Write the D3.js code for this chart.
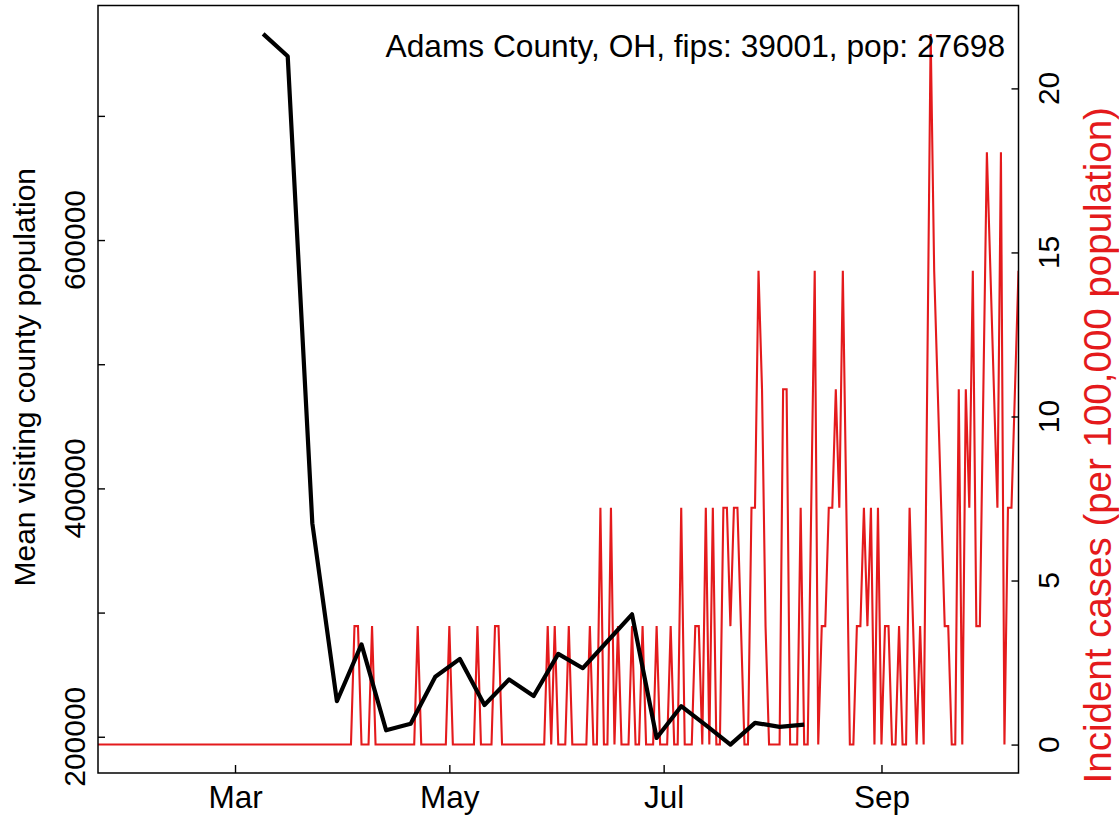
<!DOCTYPE html>
<html><head><meta charset="utf-8">
<script src="https://cdn.jsdelivr.net/npm/d3@7"></script>
<style>
body{margin:0;background:#fff}
text{font-family:"Liberation Sans",Arial,Helvetica,sans-serif}
</style>
</head><body>
<svg id="chart" width="1119" height="822"></svg>
<script>
// ---------- data ----------
const countyLabel = "Adams County, OH, fips: 39001, pop: 27698";
const leftAxisTitle = "Mean visiting county population";
const rightAxisTitle = "Incident cases (per 100,000 population)";

// weekly mean visiting county population (black)
const mobilityDates = ["2020-03-09","2020-03-16","2020-03-23","2020-03-30","2020-04-06","2020-04-13",
  "2020-04-20","2020-04-27","2020-05-04","2020-05-11","2020-05-18","2020-05-25","2020-06-01",
  "2020-06-08","2020-06-15","2020-06-22","2020-06-29","2020-07-06","2020-07-13","2020-07-20",
  "2020-07-27","2020-08-03","2020-08-10"];
const mobilityValues = [766000,748000,372000,228600,274400,205200,210400,248300,262700,225600,
  246100,232800,266700,255200,276900,298600,199000,224600,209300,193700,211200,208000,209800];

// daily incident cases per 100,000 (red), one value per day from incidenceStart
const incidenceStart = "2020-01-22";
const incJan = [0,0,0,0,0,0,0,0,0,0];
const incFeb = [0,0,0,0,0,0,0,0,0,0, 0,0,0,0,0,0,0,0,0,0, 0,0,0,0,0,0,0,0,0];
const incMar = [0,0,0,0,0,0,0,0,0,0, 0,0,0,0,0,0,0,0,0,0, 0,0,0,0,0,0,0,0,0,0, 0];
const incApr = [0,0,0,3.61,3.61,0,0,0,3.61,0, 0,0,0,0,0,0,0,0,0,0, 0,3.61,0,0,0,0,0,0,0,0];
const incMay = [3.61,0,0,0,0,0,0,0,3.61,0, 0,0,0,3.61,3.61,0,0,0,0,0, 0,0,0,0,0,0,0,0,3.61,0, 3.61];
const incJun = [0,0,0,3.61,0,0,0,0,0,3.61, 0,0,7.22,0,0,7.22,0,3.61,0,0, 0,3.61,0,0,3.61,0,0,0,3.61,0];
const incJul = [0,0,3.61,0,0,7.22,0,0,0,3.61, 3.61,0,7.22,0,7.22,0,0,7.22,7.22,3.61,
  7.22,7.22,3.61,0,0,7.22,7.22,14.44,10.83,3.61, 0];
const incAug = [0,0,0,10.83,10.83,0,0,0,7.22,0, 0,7.22,14.44,0,3.61,3.61,7.22,7.22,10.83,7.22,
  14.44,7.22,0,0,3.61,3.61,7.22,3.61,7.22,0, 7.22];
const incSep = [0,3.61,3.61,0,0,3.61,0,0,7.22,3.61, 0,3.61,0,10.83,21.66,14.44,10.83,7.22,3.61,3.61,
  0,0,10.83,0,10.83,7.22,14.44,3.61,3.61,10.83];
const incOct = [18.05,14.44,10.83,7.22,18.05,0,7.22,7.22,10.83,14.44];

const monthTicks = ["2020-03-01","2020-05-01","2020-07-01","2020-09-01"];
const monthTickLabels = ["Mar","May","Jul","Sep"];
const leftTicks = [200000,300000,400000,500000,600000,700000];
const leftTickLabels = ["200000","","400000","","600000",""];
const rightTicks = [0,5,10,15,20];
const rightTickLabels = ["0","5","10","15","20"];

// ---------- build ----------
const parse = d3.utcParse("%Y-%m-%d");
const incidenceValues = [].concat(incJan,incFeb,incMar,incApr,incMay,incJun,incJul,incAug,incSep,incOct);
const t0 = parse(incidenceStart);
const incidence = incidenceValues.map((v,i)=>({date:d3.utcDay.offset(t0,i), value:v}));
const mobility = mobilityDates.map((d,i)=>({date:parse(d), value:mobilityValues[i]}));

const L = 98, R = 1018.5, T = 5.5, B = 773;
const svg = d3.select("#chart");
svg.append("rect").attr("width",1119).attr("height",822).attr("fill","#fff");

const x = d3.scaleUtc()
  .domain(d3.extent(incidence, d=>d.date))
  .range([L, R]);

function pad(ext){ const r = ext[1]-ext[0]; return [ext[0]-0.04*r, ext[1]+0.04*r]; }
const yL = d3.scaleLinear().domain(pad(d3.extent(mobility,d=>d.value))).range([B,T]);
const yR = d3.scaleLinear().domain(pad(d3.extent(incidence,d=>d.value))).range([B,T]);

const RED = "#E41A1C";
const FS = 30, FSH = 31.5;

svg.append("clipPath").attr("id","clip").append("rect")
  .attr("x",L).attr("y",T).attr("width",R-L).attr("height",B-T);

// red incidence line
svg.append("path").datum(incidence)
  .attr("clip-path","url(#clip)")
  .attr("fill","none").attr("stroke",RED).attr("stroke-width",2.1)
  .attr("stroke-linejoin","miter").attr("stroke-miterlimit",10)
  .attr("d", d3.line().x(d=>x(d.date)).y(d=>yR(d.value)));

// black mobility line
svg.append("path").datum(mobility)
  .attr("fill","none").attr("stroke","#000").attr("stroke-width",4.2)
  .attr("stroke-linejoin","round").attr("stroke-linecap","butt")
  .attr("d", d3.line().x(d=>x(d.date)).y(d=>yL(d.value)));

// box
svg.append("rect").attr("x",L).attr("y",T).attr("width",R-L).attr("height",B-T)
  .attr("fill","none").attr("stroke","#000").attr("stroke-width",1.5);

// bottom axis (inward ticks)
const gx = svg.append("g").attr("transform",`translate(0,${B})`)
  .call(d3.axisBottom(x).tickValues(monthTicks.map(parse))
    .tickSize(-8).tickPadding(13)
    .tickFormat((d,i)=>monthTickLabels[i]));
gx.select(".domain").remove();
gx.selectAll("line").attr("stroke","#000").attr("stroke-width",1.4);
gx.selectAll("text").attr("fill","#000").style("font-size",FSH+"px")
  .style("font-family",'"Liberation Sans",Arial,sans-serif');

// left axis (inward ticks)
const gl = svg.append("g").attr("transform",`translate(${L},0)`)
  .call(d3.axisLeft(yL).tickValues(leftTicks).tickSize(-7).tickFormat(""));
gl.select(".domain").remove();
gl.selectAll("line").attr("stroke","#000").attr("stroke-width",1.4);
svg.append("g").selectAll("text").data(leftTicks).join("text")
  .attr("transform",d=>`translate(${L-13.5},${yL(d)}) rotate(-90)`)
  .attr("text-anchor","middle").style("font-size",FS+"px").attr("fill","#000")
  .text((d,i)=>leftTickLabels[i]);

// right axis (inward ticks)
const gr = svg.append("g").attr("transform",`translate(${R},0)`)
  .call(d3.axisRight(yR).tickValues(rightTicks).tickSize(-7).tickFormat(""));
gr.select(".domain").remove();
gr.selectAll("line").attr("stroke","#000").attr("stroke-width",1.4);
svg.append("g").selectAll("text").data(rightTicks).join("text")
  .attr("transform",d=>`translate(${R+40},${yR(d)}) rotate(-90)`)
  .attr("text-anchor","middle").style("font-size",FS+"px").attr("fill","#000")
  .text((d,i)=>rightTickLabels[i]);

// axis titles
svg.append("text").attr("transform",`translate(35,${(T+B)/2 - 12}) rotate(-90)`)
  .attr("text-anchor","middle").style("font-size",FS+"px").attr("fill","#000")
  .text(leftAxisTitle);
svg.append("text").attr("transform",`translate(1111,${(T+B)/2 + 56}) rotate(-90)`)
  .attr("text-anchor","middle").style("font-size","38.5px").attr("fill",RED)
  .text(rightAxisTitle);

// county label
svg.append("text").attr("x",1005).attr("y",57).attr("text-anchor","end")
  .style("font-size","31.7px").attr("fill","#000").text(countyLabel);
</script>
</body></html>
